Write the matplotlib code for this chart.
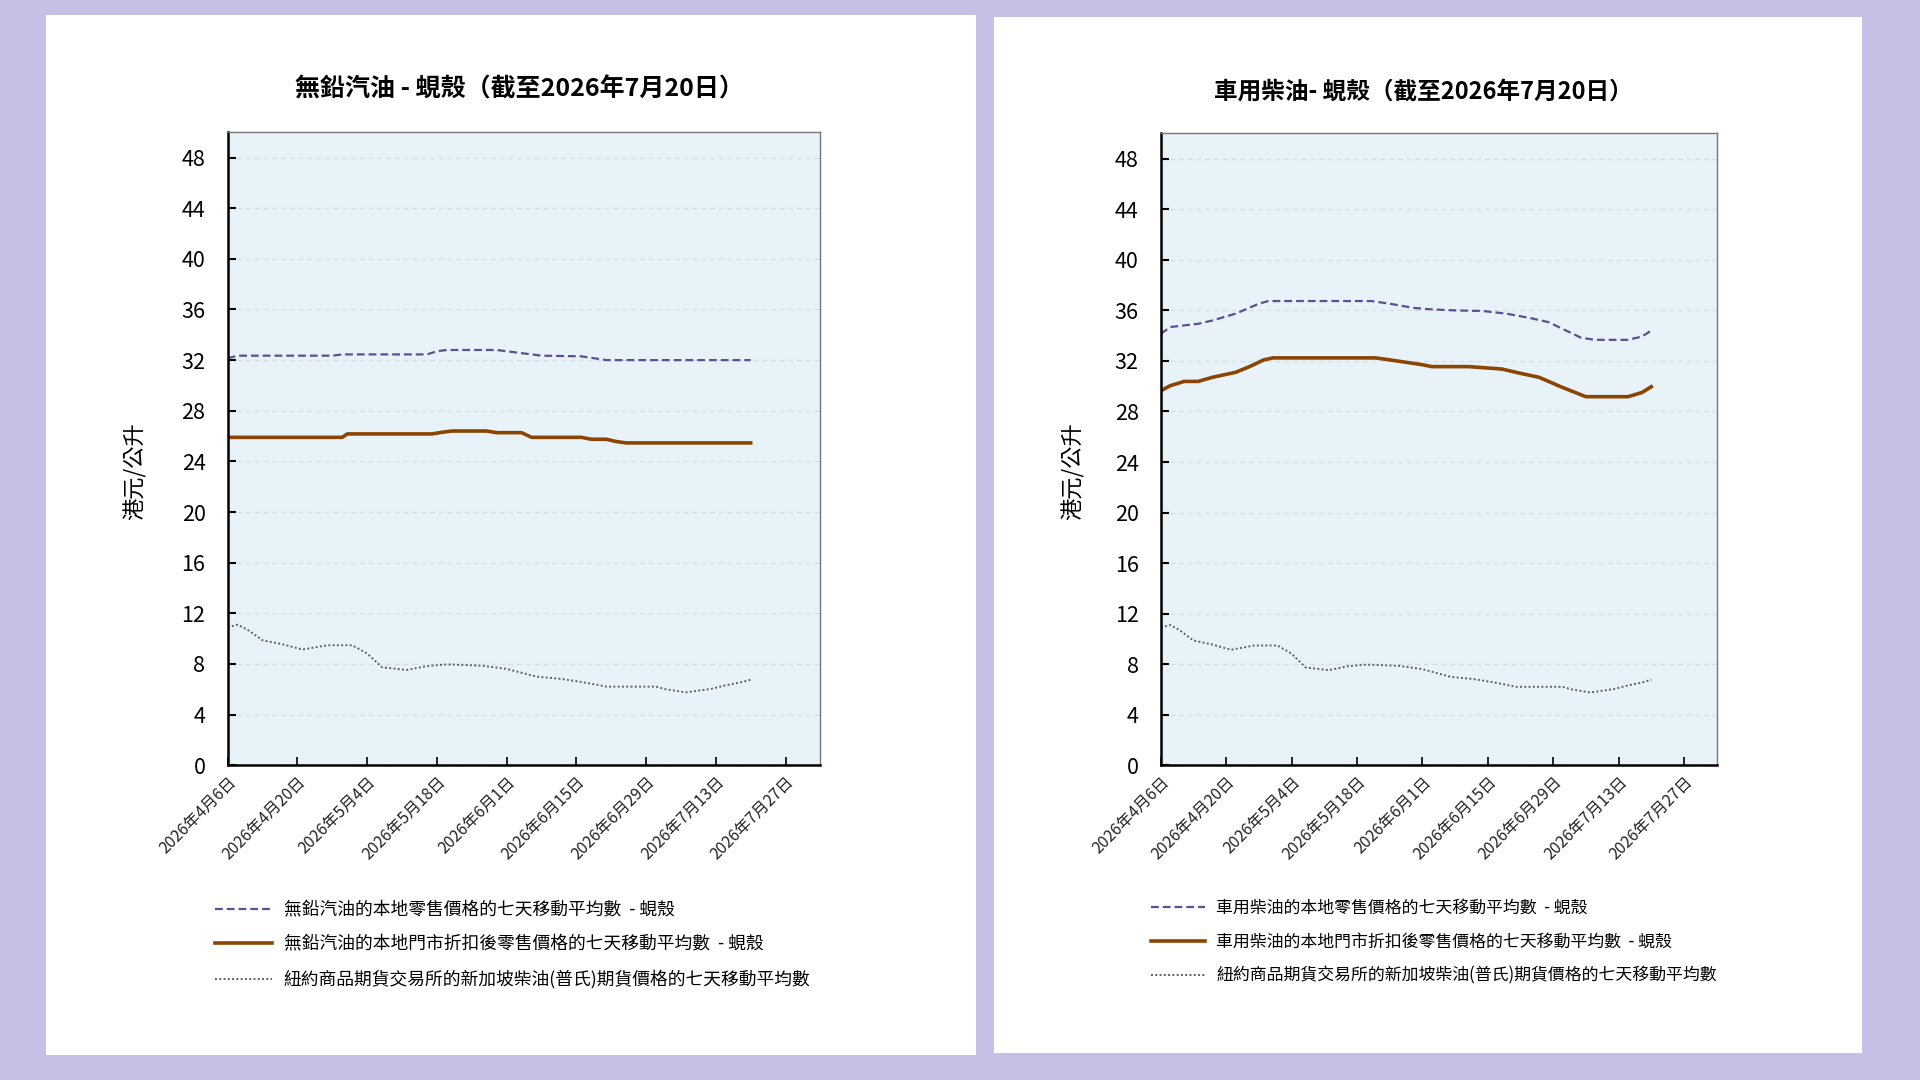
import matplotlib
matplotlib.use("Agg")
import matplotlib.pyplot as plt
import numpy as np
import pandas as pd
from matplotlib.patches import Rectangle

plt.rcParams['font.family'] = ['Noto Sans CJK TC', 'DejaVu Sans']

start = pd.Timestamp("2026-04-06")

# petrol, Shell: days since 2026-04-06 and HK$/litre
petrol_retail_days = [0, 2, 21, 23, 40, 42, 44, 54, 58, 63, 71, 76, 105]
petrol_retail = [32.15, 32.35, 32.35, 32.45, 32.45, 32.7, 32.8, 32.8, 32.6, 32.35, 32.3, 32.0, 32.0]

petrol_disc_days = [0, 23, 24, 41, 43, 45, 52, 54, 59, 61, 71, 73, 76, 78, 80, 105]
petrol_disc = [25.9, 25.9, 26.17, 26.17, 26.3, 26.4, 26.4, 26.27, 26.27, 25.9, 25.9, 25.75, 25.75,
               25.57, 25.46, 25.46]

# diesel, Shell
diesel_retail_days = [0, 2, 8, 11, 16, 21, 23, 45, 49, 54, 58, 63, 69, 74, 79, 83, 86, 90, 93, 100, 103, 105]
diesel_retail = [34.15, 34.68, 34.94, 35.2, 35.74, 36.53, 36.74, 36.74, 36.53, 36.2, 36.08, 36.0,
                 35.95, 35.74, 35.4, 35.07, 34.54, 33.83, 33.67, 33.67, 33.93, 34.4]

diesel_disc_days = [0, 2, 5, 8, 11, 16, 19, 22, 24, 46, 50, 56, 58, 66, 73, 76, 81, 86, 91, 100, 103, 105]
diesel_disc = [29.64, 30.04, 30.38, 30.38, 30.7, 31.1, 31.55, 32.08, 32.24, 32.24, 32.03, 31.7, 31.55,
               31.55, 31.36, 31.1, 30.7, 29.9, 29.17, 29.17, 29.5, 29.96]

# NYMEX Singapore gasoil (Platts) futures, same on both charts
futures_days = [0, 2, 4, 7, 11, 15, 20, 25, 28, 31, 36, 40, 44, 51, 56, 62, 67, 71, 74, 76, 86, 88,
                92, 94, 97, 100, 103, 105]
futures = [10.9, 11.1, 10.7, 9.87, 9.56, 9.14, 9.48, 9.48, 8.83, 7.74, 7.53, 7.84, 7.97, 7.87, 7.61,
           7.0, 6.82, 6.58, 6.37, 6.21, 6.21, 6.0, 5.76, 5.87, 6.03, 6.32, 6.55, 6.76]

titles = ["無鉛汽油 - 蜆殼（截至2026年7月20日）", "車用柴油- 蜆殼（截至2026年7月20日）"]
labels_petrol = ["無鉛汽油的本地零售價格的七天移動平均數  - 蜆殼",
                 "無鉛汽油的本地門市折扣後零售價格的七天移動平均數  - 蜆殼",
                 "紐約商品期貨交易所的新加坡柴油(普氏)期貨價格的七天移動平均數"]
labels_diesel = ["車用柴油的本地零售價格的七天移動平均數  - 蜆殼",
                 "車用柴油的本地門市折扣後零售價格的七天移動平均數  - 蜆殼",
                 "紐約商品期貨交易所的新加坡柴油(普氏)期貨價格的七天移動平均數"]
y_label = "港元/公升"


def to_dates(days):
    return start + pd.to_timedelta(days, unit="D")


fig = plt.figure(figsize=(19.2, 10.8), dpi=100)
fig.patch.set_facecolor("#c7c0e6")

# white panels behind the axes
fig.patches.append(Rectangle((0.0242, 0.0227), 0.4841, 0.9637, transform=fig.transFigure,
                             facecolor="white", edgecolor="none", zorder=-10))
fig.patches.append(Rectangle((0.5179, 0.0249), 0.4521, 0.9592, transform=fig.transFigure,
                             facecolor="white", edgecolor="none", zorder=-10))

panels = [
    dict(rect=[0.1186, 0.2914, 0.3087, 0.5862], title=titles[0], tx=0.2705, ty=0.917, fs=18,
         ylx=0.0702, retail=(petrol_retail_days, petrol_retail), disc=(petrol_disc_days, petrol_disc),
         labels=labels_petrol, leg=(0.1122, 0.1655), lfs=12.8),
    dict(rect=[0.6046, 0.2914, 0.2895, 0.5850], title=titles[1], tx=0.7415, ty=0.915, fs=17,
         ylx=0.5587, retail=(diesel_retail_days, diesel_retail), disc=(diesel_disc_days, diesel_disc),
         labels=labels_diesel, leg=(0.5995, 0.1675), lfs=12.2),
]

tick_dates = pd.date_range("2026-04-06", "2026-07-27", freq="14D")

for p in panels:
    ax = fig.add_axes(p["rect"])
    ax.set_facecolor("#e7f3f8")
    l1, = ax.plot(to_dates(p["retail"][0]), p["retail"][1], color="#5e4f8e", lw=1.6,
                  ls=(0, (3.5, 1.8)))
    l2, = ax.plot(to_dates(p["disc"][0]), p["disc"][1], color="#8b4500", lw=2.6)
    l3, = ax.plot(to_dates(futures_days), futures, color="#606060", lw=1.4, ls=(0, (1, 1.2)))

    ax.set_xlim(pd.Timestamp("2026-04-06"), pd.Timestamp("2026-08-03"))
    ax.set_ylim(0, 50)
    ax.set_yticks(np.arange(0, 49, 4))
    ax.set_xticks(tick_dates)
    ax.set_xticklabels([f"{d.year}年{d.month}月{d.day}日" for d in tick_dates], rotation=45,
                       ha="right", rotation_mode="anchor", fontsize=11.5, color="#222222")
    ax.tick_params(axis="y", direction="in", length=6, width=1.5, labelsize=15.5, pad=16)
    ax.tick_params(axis="x", direction="in", length=6, width=1.2, pad=6)
    ax.yaxis.grid(True, ls=(0, (4, 3)), color="#d3dde2", lw=0.9)
    ax.set_axisbelow(True)
    for s in ["left", "bottom"]:
        ax.spines[s].set_linewidth(1.8)
        ax.spines[s].set_color("black")
    for s in ["top", "right"]:
        ax.spines[s].set_linewidth(1.0)
        ax.spines[s].set_color("#777777")

    fig.text(p["tx"], p["ty"], p["title"], ha="center", va="center", fontsize=p["fs"],
             fontweight="bold")
    fig.text(p["ylx"], 0.5635, y_label, ha="center", va="center", rotation=90, fontsize=16)

    ax.legend([l1, l2, l3], p["labels"], loc="upper left", bbox_to_anchor=p["leg"],
              bbox_transform=fig.transFigure, frameon=False, fontsize=p["lfs"], handlelength=3.2,
              handletextpad=0.65, labelspacing=0.92, borderpad=0, borderaxespad=0)

fig.savefig("out.png", dpi=100, facecolor=fig.get_facecolor())
